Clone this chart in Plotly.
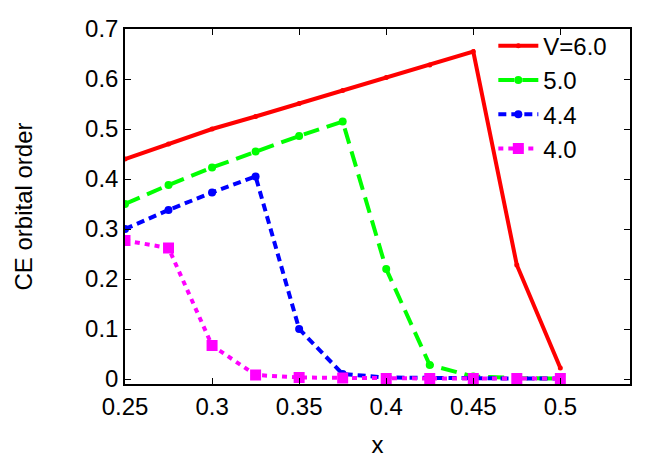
import plotly.graph_objects as go

x = [0.25, 0.275, 0.3, 0.325, 0.35, 0.375, 0.4, 0.425, 0.45, 0.475, 0.5]
v60 = [0.440, 0.470, 0.500, 0.525, 0.551, 0.577, 0.603, 0.628, 0.655, 0.228, 0.022]
v50 = [0.350, 0.388, 0.423, 0.455, 0.486, 0.515, 0.220, 0.028, 0.005, 0.002, 0.001]
v44 = [0.300, 0.338, 0.373, 0.405, 0.100, 0.010, 0.003, 0.002, 0.001, 0.001, 0.001]
v40 = [0.277, 0.262, 0.067, 0.008, 0.003, 0.002, 0.001, 0.001, 0.001, 0.001, 0.001]

names = ["V=6.0", "5.0", "4.4", "4.0"]
series = [v60, v50, v44, v40]
colors = ["#ff0000", "#00ff00", "#0000ff", "#ff00ff"]
dashes = ["solid", "16px,8px", "8px,5px", "5px,5px"]
symbols = ["circle", "circle", "circle", "square"]
sizes = [5, 8, 8, 11]

fig = go.Figure()
for n, s, c, d, sym, sz in zip(names, series, colors, dashes, symbols, sizes):
    fig.add_trace(go.Scatter(
        x=x, y=s, name=n, mode="lines+markers",
        line=dict(color=c, width=4, dash=d),
        marker=dict(color=c, symbol=sym, size=sz),
    ))

axis_common = dict(
    showgrid=False, zeroline=False, showline=True, linecolor="black",
    linewidth=1.5, mirror="allticks", ticks="inside", ticklen=6,
    tickcolor="black", tickfont=dict(size=24, color="black"),
)
fig.update_xaxes(range=[0.25, 0.54], tickvals=[0.25, 0.3, 0.35, 0.4, 0.45, 0.5],
                 ticktext=["0.25", "0.3", "0.35", "0.4", "0.45", "0.5"],
                 title=dict(text="x", font=dict(size=24, color="black"), standoff=20),
                 **axis_common)
fig.update_yaxes(range=[-0.01, 0.7], tickvals=[0, 0.1, 0.2, 0.3, 0.4, 0.5, 0.6, 0.7],
                 ticktext=["0", "0.1", "0.2", "0.3", "0.4", "0.5", "0.6", "0.7"],
                 title=dict(text="CE orbital order", font=dict(size=24, color="black"), standoff=46),
                 **axis_common)

fig.update_layout(
    width=654, height=458,
    margin=dict(l=125, r=24, t=29, b=74, autoexpand=False),
    paper_bgcolor="white", plot_bgcolor="white",
    font=dict(family="Liberation Sans, Arial, sans-serif", size=24, color="black"),
    legend=dict(x=0.965, y=1.015, xanchor="right", yanchor="top",
                bgcolor="rgba(0,0,0,0)", font=dict(size=24),
                tracegroupgap=0, itemwidth=40),
    showlegend=True,
)

fig.write_html("out.html", config={"displayModeBar": False},
               post_script="document.body.style.margin='0';document.body.style.overflow='hidden';")
